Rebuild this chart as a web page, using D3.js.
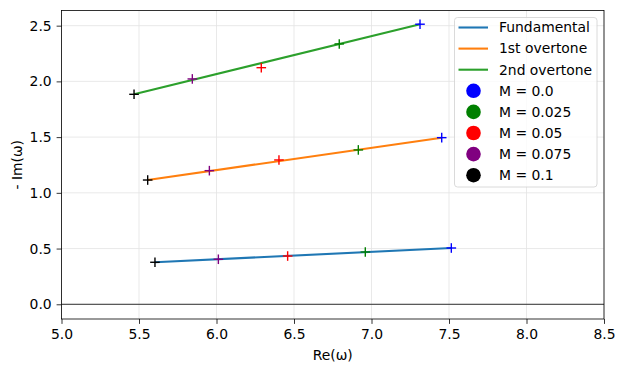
<!DOCTYPE html>
<html>
<head>
<meta charset="utf-8">
<script src="https://cdn.jsdelivr.net/npm/d3@7"></script>
<style>
  body { margin: 0; background: #fff; }
  text { font-family: "DejaVu Sans", sans-serif; font-size: 13.9px; fill: #000; }
</style>
</head>
<body>
<div id="wrapper"></div>
<script>
// data
const massLabels = ["M = 0.0", "M = 0.025", "M = 0.05", "M = 0.075", "M = 0.1"]
const massColors = ["blue", "green", "red", "purple", "black"]

const modeNames = ["Fundamental", "1st overtone", "2nd overtone"]
const modeColors = ["#1f77b4", "#ff7f0e", "#2ca02c"]

// Re(w) and -Im(w), one value per mass, same order as massLabels
const fundamentalRe = [7.515, 6.960, 6.459, 6.012, 5.603]
const fundamentalIm = [0.505, 0.469, 0.433, 0.404, 0.377]
const overtone1Re = [7.453, 6.915, 6.403, 5.954, 5.556]
const overtone1Im = [1.495, 1.385, 1.295, 1.199, 1.115]
const overtone2Re = [7.313, 6.792, 6.289, 5.844, 5.468]
const overtone2Im = [2.513, 2.336, 2.123, 2.022, 1.884]

const xTicks = [5.0, 5.5, 6.0, 6.5, 7.0, 7.5, 8.0, 8.5]
const yTicks = [0.0, 0.5, 1.0, 1.5, 2.0, 2.5]

const modes = [
  {re: fundamentalRe, im: fundamentalIm},
  {re: overtone1Re, im: overtone1Im},
  {re: overtone2Re, im: overtone2Im},
]

// dimensions
let dimensions = {
  width: 624,
  height: 371,
  margin: {top: 10.5, right: 20, bottom: 52, left: 61.5},
}
dimensions.boundedWidth = dimensions.width - dimensions.margin.left - dimensions.margin.right
dimensions.boundedHeight = dimensions.height - dimensions.margin.top - dimensions.margin.bottom

const svg = d3.select("#wrapper")
  .append("svg")
    .attr("width", dimensions.width)
    .attr("height", dimensions.height)

const bounds = svg.append("g")
    .attr("transform", `translate(${dimensions.margin.left},${dimensions.margin.top})`)

// scales
const xScale = d3.scaleLinear()
  .domain([5.0, 8.5])
  .range([0, dimensions.boundedWidth])

const yScale = d3.scaleLinear()
  .domain([-0.132, 2.636])
  .range([dimensions.boundedHeight, 0])

// grid
bounds.append("g")
  .selectAll("line")
  .data(xTicks)
  .enter().append("line")
    .attr("x1", d => xScale(d))
    .attr("x2", d => xScale(d))
    .attr("y1", 0)
    .attr("y2", dimensions.boundedHeight)
    .attr("stroke", "#e3e3e3")
    .attr("stroke-width", 0.8)

bounds.append("g")
  .selectAll("line")
  .data(yTicks)
  .enter().append("line")
    .attr("x1", 0)
    .attr("x2", dimensions.boundedWidth)
    .attr("y1", d => yScale(d))
    .attr("y2", d => yScale(d))
    .attr("stroke", "#e3e3e3")
    .attr("stroke-width", 0.8)

// zero line
bounds.append("line")
    .attr("x1", 0)
    .attr("x2", dimensions.boundedWidth)
    .attr("y1", yScale(0))
    .attr("y2", yScale(0))
    .attr("stroke", "#000")
    .attr("stroke-width", 0.8)

// lines between first and last point of each mode
const lineGenerator = d3.line()
  .x(d => xScale(d[0]))
  .y(d => yScale(d[1]))

modes.forEach((m, i) => {
  const n = m.re.length - 1
  bounds.append("path")
      .datum([[m.re[0], m.im[0]], [m.re[n], m.im[n]]])
      .attr("d", lineGenerator)
      .attr("fill", "none")
      .attr("stroke", modeColors[i])
      .attr("stroke-width", 2.1)
})

// plus markers
const half = 4.8
modes.forEach(m => {
  const pts = m.re.map((re, j) => ({re: re, im: m.im[j], color: massColors[j]}))
  const g = bounds.append("g")
    .selectAll("g")
    .data(pts)
    .enter().append("g")
      .attr("transform", d => `translate(${xScale(d.re)},${yScale(d.im)})`)
  g.append("line")
      .attr("x1", -half).attr("x2", half)
      .attr("stroke", d => d.color)
      .attr("stroke-width", 1.4)
  g.append("line")
      .attr("y1", -half).attr("y2", half)
      .attr("stroke", d => d.color)
      .attr("stroke-width", 1.4)
})

// axes
const xAxis = bounds.append("g")
    .attr("transform", `translate(0,${dimensions.boundedHeight})`)
    .call(d3.axisBottom(xScale).tickValues(xTicks).tickFormat(d3.format(".1f")).tickSize(4.9).tickPadding(4.9))
const yAxis = bounds.append("g")
    .call(d3.axisLeft(yScale).tickValues(yTicks).tickFormat(d3.format(".1f")).tickSize(4.9).tickPadding(4.9))

;[xAxis, yAxis].forEach(a => {
  a.selectAll("path").remove()
  a.selectAll(".tick line").attr("stroke", "#000").attr("stroke-width", 0.8)
  a.selectAll(".tick text")
    .style("font-family", "DejaVu Sans, sans-serif")
    .style("font-size", "13.9px")
    .attr("fill", "#000")
})

// frame
bounds.append("rect")
    .attr("width", dimensions.boundedWidth)
    .attr("height", dimensions.boundedHeight)
    .attr("fill", "none")
    .attr("stroke", "#000")
    .attr("stroke-width", 0.8)

// axis titles
svg.append("text")
    .attr("x", dimensions.margin.left + dimensions.boundedWidth / 2)
    .attr("y", 360)
    .attr("text-anchor", "middle")
    .text("Re(ω)")

svg.append("text")
    .attr("transform", `translate(22,${dimensions.margin.top + dimensions.boundedHeight / 2}) rotate(-90)`)
    .attr("text-anchor", "middle")
    .text("- Im(ω)")

// legend
const legend = svg.append("g")
    .attr("transform", "translate(454.5,17.5)")

legend.append("rect")
    .attr("width", 142.5)
    .attr("height", 169.5)
    .attr("rx", 3)
    .attr("fill", "#fff")
    .attr("fill-opacity", 0.8)
    .attr("stroke", "#d0d0d0")
    .attr("stroke-width", 0.8)

const rowH = 21.1
const firstRow = 10

modeNames.forEach((name, i) => {
  const y = firstRow + i * rowH
  legend.append("line")
      .attr("x1", 4).attr("x2", 33.5)
      .attr("y1", y).attr("y2", y)
      .attr("stroke", modeColors[i])
      .attr("stroke-width", 2.1)
  legend.append("text")
      .attr("x", 44.5)
      .attr("y", y)
      .attr("dy", "0.35em")
      .text(name)
})

massLabels.forEach((label, j) => {
  const y = firstRow + (j + 3) * rowH
  legend.append("circle")
      .attr("cx", 19)
      .attr("cy", y)
      .attr("r", 7.3)
      .attr("fill", massColors[j])
  legend.append("text")
      .attr("x", 44.5)
      .attr("y", y)
      .attr("dy", "0.35em")
      .text(label)
})
</script>
</body>
</html>
